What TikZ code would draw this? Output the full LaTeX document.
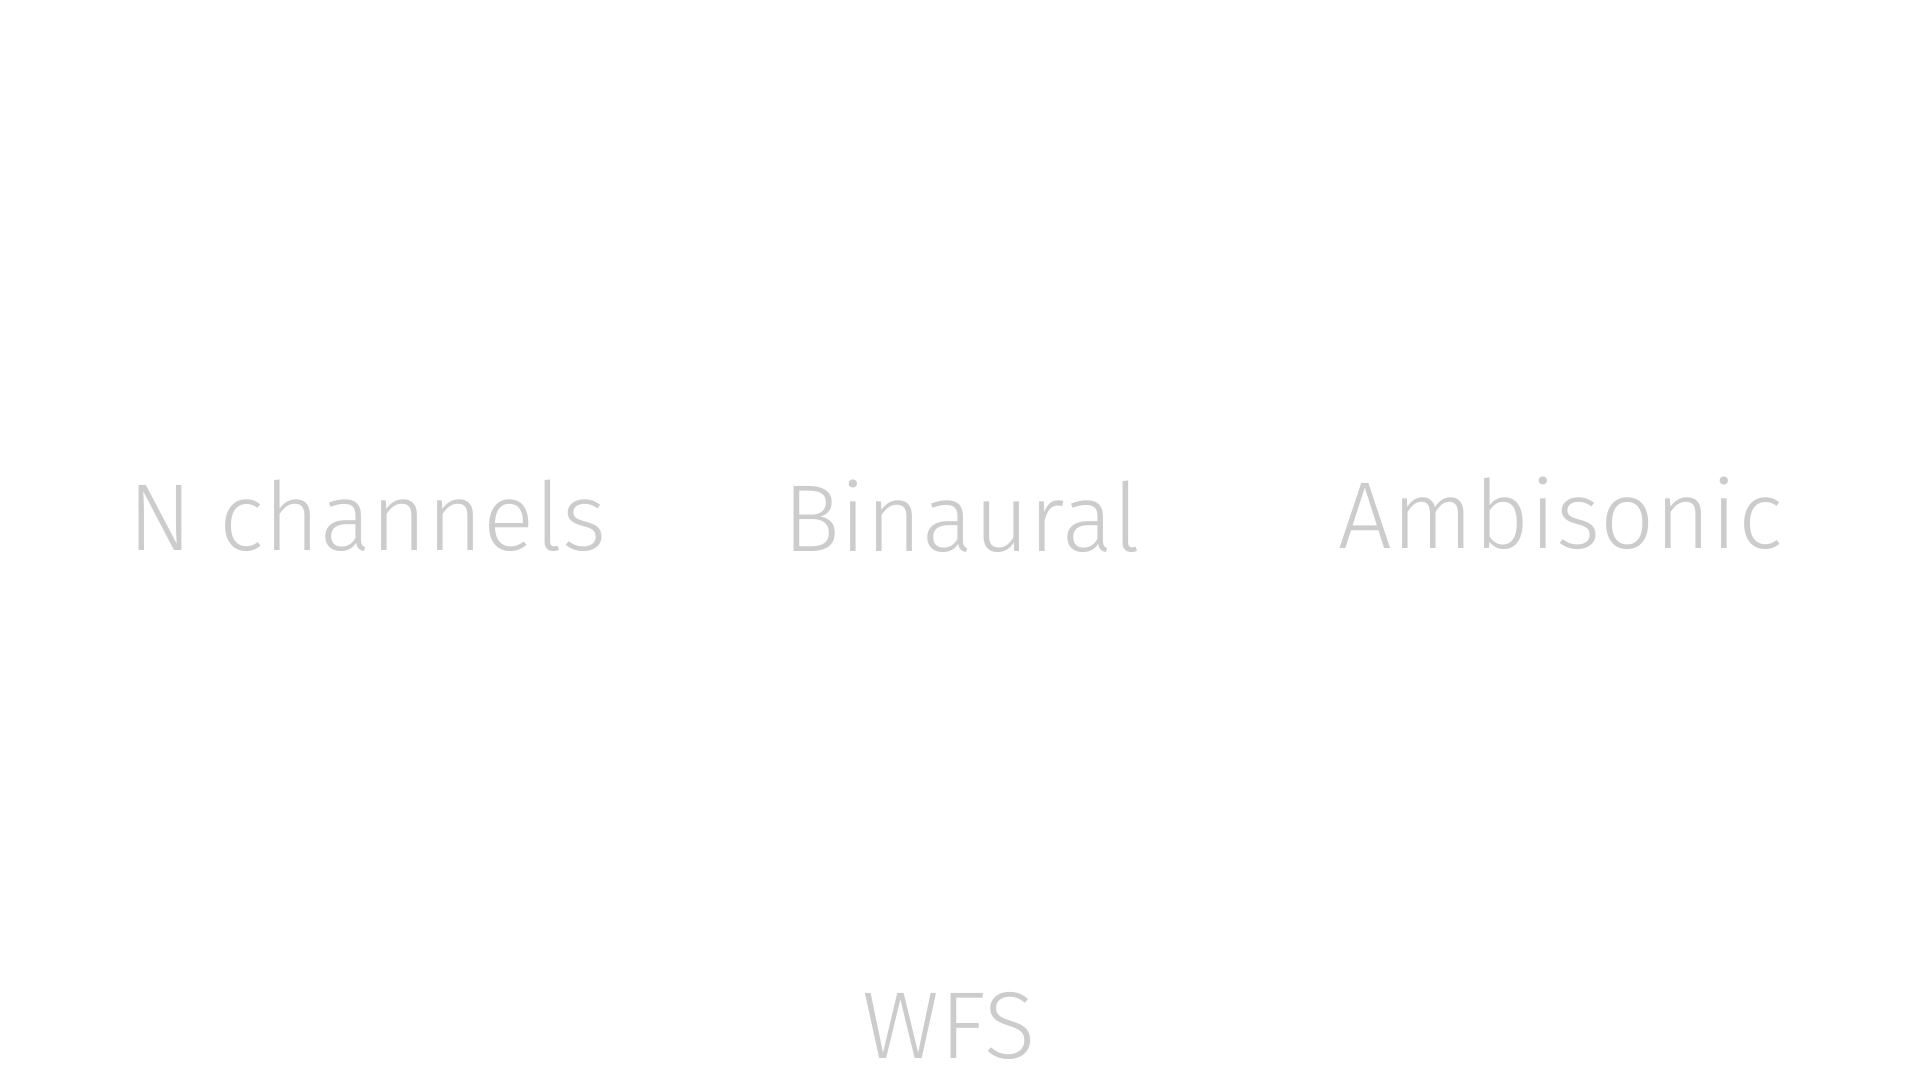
\documentclass[tikz,border=0pt]{standalone}
\usepackage{fontspec}
\newfontfamily\lblfont[LetterSpace=0.6]{Fira Sans Light}
\definecolor{lblgray}{HTML}{CCCCCC}
\begin{document}
\begin{tikzpicture}[x=1pt,y=1pt,
  lbl/.style={anchor=base, inner sep=0pt, text=lblgray, font=\lblfont\fontsize{47.5}{56}\selectfont}]
\useasboundingbox (0,0) rectangle (960,-540);
\node[lbl] (nch) at (183.8,-275.35) {N channels};
\node[lbl] (bin) at (480.8,-275.5) {Binaural};
\node[lbl] (amb) at (780.25,-274) {Ambisonic};
\node[lbl] (wfs) at (474.7,-529) {WFS};
\end{tikzpicture}
\end{document}
